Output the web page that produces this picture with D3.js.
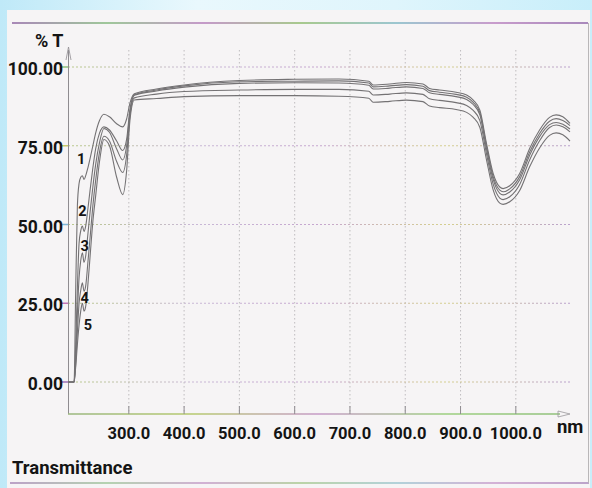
<!DOCTYPE html>
<html>
<head>
<meta charset="utf-8">
<script src="https://d3js.org/d3.v7.min.js"></script>
<title>Transmittance spectra</title>
</head>
<style>
body {
  margin: 0;
  background: #d6f2fb;
}
svg {
  display: block;
}
text {
  font-family: Roboto, "Open Sans", sans-serif;
  font-weight: bold;
  fill: #141414;
}
</style>
<body>
<svg width="592" height="488"></svg>
</body>
<script>

// wavelengths (nm) shared by the five spectra
let wavelength = [190, 201, 204, 207, 210, 213, 216, 219, 222, 226,
  230, 235, 240, 247, 255, 265, 278, 289, 296, 302,
  310, 350, 400, 500, 600, 680, 734, 742, 772, 802,
  832, 844, 862, 892, 911, 923, 935, 947, 959, 971,
  977, 989, 1007, 1025, 1043, 1061, 1073, 1085, 1098];

let curve1 = [0, 0, 30, 56, 63, 65, 65.5, 64.3, 65.5, 68,
  71, 75, 79, 83, 85, 84.2, 82, 81, 83.5, 88.5,
  91.5, 93, 94.3, 95.7, 96.1, 96.2, 95.5, 94.3, 94.6, 95.1,
  94.6, 93.2, 92.7, 92, 91.1, 89.5, 86.3, 75.7, 66.2, 61.9,
  61.4, 62.3, 66.2, 74.1, 80, 84, 84.8, 84.2, 82.1];

let curve2 = [0, 0, 12, 30, 44, 48, 49.5, 47.8, 49.5, 55,
  61, 68, 74, 79, 81, 80, 76.5, 73.5, 77, 86.5,
  91.2, 92.7, 94, 95.3, 95.5, 95.6, 94.9, 93.7, 94, 94.4,
  93.9, 92.5, 92, 91.3, 90.4, 88.8, 85.5, 74.8, 65.2, 60.9,
  60.4, 61.3, 65.2, 73, 78.9, 82.8, 83.6, 83, 81.4];

let curve3 = [0, 0, 8, 22, 33, 38.5, 41, 38, 40, 47,
  54, 62, 69, 76, 80.5, 79.3, 74, 70.5, 75, 85.5,
  91, 92.4, 93.6, 94.8, 95, 94.9, 94.2, 93, 93.3, 93.7,
  93.2, 91.8, 91.3, 90.6, 89.7, 88.1, 84.8, 74, 64.3, 59.9,
  59.4, 60.3, 64.2, 72, 77.9, 81.7, 82.4, 81.8, 80.3];

let curve4 = [0, 0, 6, 16, 25, 29, 31.5, 28.8, 30.5, 38,
  46, 56, 64, 73, 78, 76.5, 70, 66.5, 72, 84.5,
  90.2, 91.4, 92.2, 92.7, 92.9, 92.9, 92.3, 91.1, 91.4, 91.8,
  91.3, 89.9, 89.4, 88.7, 87.8, 86.2, 83, 72.4, 62.8, 58.4,
  57.9, 58.8, 62.7, 70.5, 76.6, 80.8, 81.6, 81, 79.4];

let curve5 = [0, 0, 5, 12, 18, 22.5, 25, 22.5, 24, 31,
  40, 51, 59, 70, 77, 75, 65, 59.5, 67, 83,
  89.5, 90, 90.6, 90.9, 90.9, 90.7, 90.1, 88.8, 89.1, 89.5,
  89, 87.6, 87.1, 86.5, 85.6, 84, 80.8, 70.5, 61, 56.8,
  56.4, 57.2, 60.8, 68.3, 74.3, 78.3, 79.1, 78.5, 76.5];

// curve numbers written next to the UV shoulders
let labelText = ["1", "2", "3", "4", "5"];
let labelNm = [214, 216, 220, 220, 226];
let labelT = [70.5, 54, 43, 26.6, 18];

let xTicks = [300, 400, 500, 600, 700, 800, 900, 1000];
let yTicks = [0, 25, 50, 75, 100];

let svg = d3.select("svg");

let x = d3.scaleLinear().domain([190, 1098]).range([68, 570]);
let y = d3.scaleLinear().domain([0, 100]).range([382, 67]);

// horizontal gradient in page pixels, so it also works on flat lines
function gradient(id, x1, x2, stops) {
  let g = svg.select("defs").append("linearGradient")
    .attr("id", id)
    .attr("gradientUnits", "userSpaceOnUse")
    .attr("x1", x1).attr("x2", x2)
    .attr("y1", 0).attr("y2", 0);
  stops.forEach(function(c, i) {
    g.append("stop")
      .attr("offset", (i / (stops.length - 1) * 100) + "%")
      .attr("stop-color", c);
  });
}

function drawFrame() {
  svg.append("defs");
  gradient("bg", 0, 592, ["#bfe9f8", "#e9f8fd", "#dff5fc", "#c8eefa"]);
  gradient("rule", 10, 590, ["#a987b8", "#9fc79a", "#c59ac9", "#a8c98e", "#9cc6d0", "#c89ccc", "#a888bb"]);
  gradient("grid", 68, 570, ["#b9c98a", "#c9b8d6", "#c6a6cf", "#d5cf8f", "#bba2cd"]);
  gradient("xaxis", 68, 570, ["#9ab77e", "#b6c96e", "#c69ac7", "#9ccf7f", "#8fbf7a"]);

  svg.append("rect")
    .attr("width", 592).attr("height", 488)
    .attr("fill", "url(#bg)");

  svg.append("rect")
    .attr("x", 7).attr("y", 10)
    .attr("width", 583).attr("height", 478)
    .attr("fill", "#f6f4f5");

  svg.append("line")
    .attr("x1", 12).attr("x2", 588)
    .attr("y1", 23).attr("y2", 23)
    .attr("stroke", "url(#rule)")
    .attr("stroke-width", 2);

  svg.append("line")
    .attr("x1", 10).attr("x2", 589)
    .attr("y1", 483).attr("y2", 483)
    .attr("stroke", "url(#rule)")
    .attr("stroke-width", 1.5);

  svg.append("line")
    .attr("x1", 588.5).attr("x2", 588.5)
    .attr("y1", 23).attr("y2", 483)
    .attr("stroke", "#b9b6b8")
    .attr("stroke-width", 1);
}

function drawGrid() {
  svg.append("g").selectAll("line")
    .data(xTicks)
    .enter().append("line")
      .attr("x1", function(d){ return x(d); })
      .attr("x2", function(d){ return x(d); })
      .attr("y1", 50)
      .attr("y2", 414)
      .attr("stroke", "#b2afb3")
      .attr("stroke-width", 0.8)
      .attr("stroke-dasharray", "1.5,2.5");

  svg.append("g").selectAll("line")
    .data(yTicks)
    .enter().append("line")
      .attr("x1", 68)
      .attr("x2", 570)
      .attr("y1", function(d){ return y(d); })
      .attr("y2", function(d){ return y(d); })
      .attr("stroke", "url(#grid)")
      .attr("stroke-width", 1)
      .attr("stroke-dasharray", "2,2");
}

function drawAxes() {
  let tickColors = ["#9a6fb5", "#c277b8", "#7fb6d6", "#c7c96a", "#8fc27c"];

  // y axis with open arrow on top
  svg.append("line")
    .attr("x1", 68.5).attr("x2", 68.5)
    .attr("y1", 50).attr("y2", 414)
    .attr("stroke", "#8f8c90").attr("stroke-width", 1);
  svg.append("path")
    .attr("d", "M66,60 L68.5,47 L71,60")
    .attr("fill", "none")
    .attr("stroke", "#8f8c90").attr("stroke-width", 0.8);

  // x axis with open arrow on the right
  svg.append("line")
    .attr("x1", 68).attr("x2", 560)
    .attr("y1", 414).attr("y2", 414)
    .attr("stroke", "url(#xaxis)").attr("stroke-width", 1.6);
  svg.append("path")
    .attr("d", "M558,411 L570,414 L558,417 Z")
    .attr("fill", "none")
    .attr("stroke", "#9b989c").attr("stroke-width", 0.8);

  svg.append("g").selectAll("line")
    .data(yTicks)
    .enter().append("line")
      .attr("x1", 62).attr("x2", 68)
      .attr("y1", function(d){ return y(d); })
      .attr("y2", function(d){ return y(d); })
      .attr("stroke", function(d, i){ return tickColors[i]; })
      .attr("stroke-width", 1.5);

  svg.append("g").selectAll("text")
    .data(yTicks)
    .enter().append("text")
      .attr("x", 63)
      .attr("y", function(d){ return y(d) + 8; })
      .attr("text-anchor", "end")
      .attr("font-size", 17.5)
      .text(d3.format(".2f"));

  svg.append("g").selectAll("line")
    .data(xTicks)
    .enter().append("line")
      .attr("x1", function(d){ return x(d); })
      .attr("x2", function(d){ return x(d); })
      .attr("y1", 406).attr("y2", 414)
      .attr("stroke", "#8f8c90").attr("stroke-width", 1);

  svg.append("g").selectAll("text")
    .data(xTicks)
    .enter().append("text")
      .attr("x", function(d){ return x(d); })
      .attr("y", 439)
      .attr("text-anchor", "middle")
      .attr("font-size", 16.5)
      .text(d3.format(".1f"));

  svg.append("text")
    .attr("x", 35).attr("y", 47)
    .attr("font-size", 18)
    .text("% T");

  svg.append("text")
    .attr("x", 557).attr("y", 433)
    .attr("font-size", 18.5)
    .text("nm");

  svg.append("text")
    .attr("x", 12).attr("y", 474)
    .attr("font-size", 18.5)
    .text("Transmittance");
}

function drawCurves() {
  let series = [curve1, curve2, curve3, curve4, curve5];
  let line = d3.line()
    .x(function(d, i){ return x(wavelength[i]); })
    .y(function(d){ return y(d); })
    .curve(d3.curveMonotoneX);

  svg.append("g").selectAll("path")
    .data(series)
    .enter().append("path")
      .attr("d", line)
      .attr("fill", "none")
      .attr("stroke", "#747274")
      .attr("stroke-width", 1.1);

  svg.append("g").selectAll("text")
    .data(labelText)
    .enter().append("text")
      .attr("x", function(d, i){ return x(labelNm[i]); })
      .attr("y", function(d, i){ return y(labelT[i]); })
      .attr("text-anchor", "middle")
      .attr("dominant-baseline", "central")
      .attr("font-size", 14.5)
      .text(function(d){ return d; });
}

function drawAll() {
  drawFrame();
  drawGrid();
  drawAxes();
  drawCurves();
}

drawAll();

</script>
</html>
